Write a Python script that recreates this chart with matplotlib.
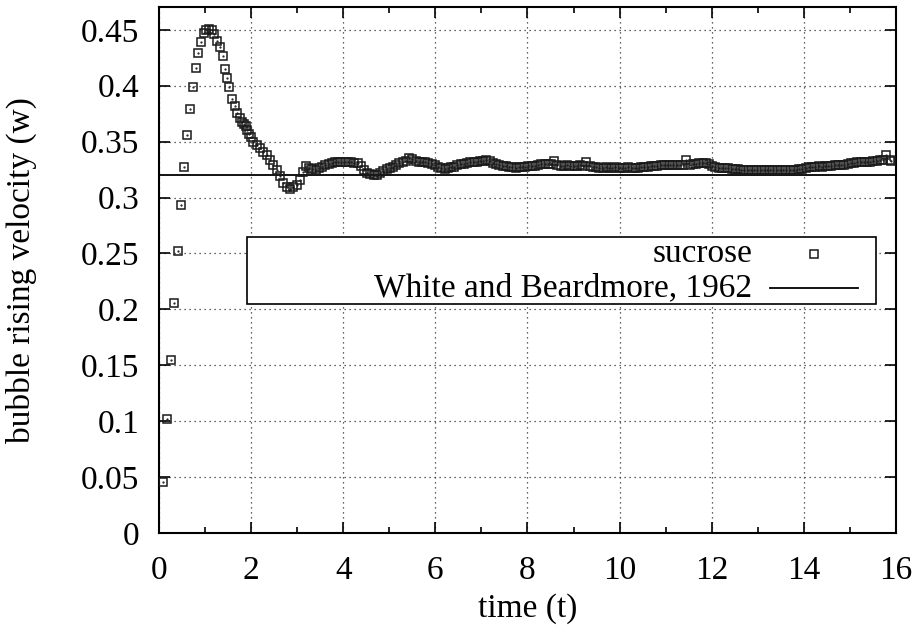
import matplotlib.pyplot as plt
from matplotlib.patches import Rectangle
from matplotlib.lines import Line2D

plt.rcParams['font.family'] = ['Liberation Serif', 'DejaVu Serif']

# rising velocity of the sucrose bubble against time
time = [
    0.08, 0.17, 0.25, 0.33, 0.41, 0.47, 0.54, 0.61, 0.67, 0.73,
    0.80, 0.85, 0.92, 0.98, 1.03, 1.09, 1.15, 1.20, 1.27, 1.32,
    1.38, 1.43, 1.48, 1.53, 1.59, 1.65, 1.70, 1.75, 1.80, 1.85,
    1.88, 1.92, 1.96, 2.00, 2.05, 2.12, 2.19, 2.26, 2.34, 2.41,
    2.48, 2.56, 2.63, 2.70, 2.77, 2.84, 2.92, 2.99, 3.06, 3.13,
    3.19, 3.26, 3.33, 3.40, 3.47, 3.54, 3.61, 3.68, 3.75, 3.82,
    3.89, 3.96, 4.03, 4.10, 4.17, 4.24, 4.31, 4.38, 4.45, 4.52,
    4.59, 4.66, 4.73, 4.80, 4.87, 4.94, 5.01, 5.08, 5.15, 5.22,
    5.29, 5.36, 5.43, 5.50, 5.57, 5.64, 5.71, 5.78, 5.85, 5.92,
    5.99, 6.06, 6.13, 6.20, 6.27, 6.34, 6.41, 6.48, 6.55, 6.62,
    6.69, 6.76, 6.83, 6.90, 6.97, 7.04, 7.11, 7.18, 7.25, 7.32,
    7.39, 7.46, 7.53, 7.60, 7.67, 7.74, 7.81, 7.88, 7.95, 8.02,
    8.09, 8.16, 8.23, 8.30, 8.37, 8.44, 8.51, 8.58, 8.65, 8.72,
    8.79, 8.86, 8.93, 9.00, 9.07, 9.14, 9.21, 9.28, 9.35, 9.42,
    9.49, 9.56, 9.63, 9.70, 9.77, 9.84, 9.91, 9.98, 10.05, 10.12,
    10.19, 10.26, 10.33, 10.40, 10.47, 10.54, 10.61, 10.68, 10.75, 10.82,
    10.89, 10.96, 11.03, 11.10, 11.17, 11.24, 11.31, 11.38, 11.45, 11.52,
    11.59, 11.66, 11.73, 11.80, 11.87, 11.94, 12.01, 12.08, 12.15, 12.22,
    12.29, 12.36, 12.43, 12.50, 12.57, 12.64, 12.71, 12.78, 12.85, 12.92,
    12.99, 13.06, 13.13, 13.20, 13.27, 13.34, 13.41, 13.48, 13.55, 13.62,
    13.69, 13.76, 13.83, 13.90, 13.97, 14.04, 14.11, 14.18, 14.25, 14.32,
    14.39, 14.46, 14.53, 14.60, 14.67, 14.74, 14.81, 14.88, 14.95, 15.02,
    15.09, 15.16, 15.23, 15.30, 15.37, 15.44, 15.51, 15.58, 15.65, 15.72,
    15.79, 15.86, 15.90,
]
velocity = [
    0.046, 0.102, 0.155, 0.206, 0.252, 0.293, 0.327, 0.356, 0.379, 0.399,
    0.416, 0.429, 0.439, 0.447, 0.450, 0.451, 0.450, 0.446, 0.440, 0.435,
    0.427, 0.415, 0.407, 0.399, 0.388, 0.382, 0.376, 0.371, 0.368, 0.366,
    0.364, 0.360, 0.357, 0.354, 0.350, 0.347, 0.344, 0.341, 0.338, 0.334,
    0.329, 0.325, 0.319, 0.313, 0.309, 0.308, 0.309, 0.311, 0.316, 0.323,
    0.328, 0.326, 0.3255, 0.325, 0.326, 0.3275, 0.329, 0.330, 0.331, 0.332,
    0.332, 0.332, 0.332, 0.332, 0.332, 0.331, 0.3305, 0.328, 0.325, 0.322,
    0.321, 0.3205, 0.320, 0.322, 0.324, 0.3255, 0.326, 0.3275, 0.329, 0.3305,
    0.3315, 0.333, 0.335, 0.3345, 0.333, 0.332, 0.332, 0.3315, 0.331, 0.330,
    0.329, 0.3277, 0.3268, 0.3256, 0.326, 0.327, 0.3277, 0.329, 0.3298, 0.330,
    0.3307, 0.3316, 0.332, 0.332, 0.3328, 0.333, 0.3337, 0.333, 0.331, 0.330,
    0.3292, 0.3285, 0.328, 0.3272, 0.327, 0.3268, 0.327, 0.327, 0.3272, 0.328,
    0.3283, 0.3285, 0.329, 0.3298, 0.330, 0.3298, 0.330, 0.333, 0.329, 0.3286,
    0.3286, 0.3288, 0.3286, 0.3285, 0.3286, 0.3288, 0.3286, 0.332, 0.328, 0.3275,
    0.327, 0.3268, 0.3268, 0.327, 0.3268, 0.3268, 0.327, 0.3268, 0.3266, 0.3268,
    0.327, 0.3268, 0.3266, 0.3268, 0.327, 0.3272, 0.3275, 0.3278, 0.328, 0.3285,
    0.329, 0.3292, 0.3292, 0.329, 0.3292, 0.3294, 0.329, 0.3292, 0.3337, 0.3295,
    0.3298, 0.330, 0.3305, 0.3307, 0.3307, 0.330, 0.3285, 0.3272, 0.3268, 0.3265,
    0.3262, 0.326, 0.3258, 0.3255, 0.3252, 0.325, 0.3248, 0.3247, 0.3247, 0.3245,
    0.3247, 0.3248, 0.3247, 0.3245, 0.3247, 0.3248, 0.3247, 0.3247, 0.3245, 0.3245,
    0.3247, 0.3248, 0.325, 0.3252, 0.3258, 0.3265, 0.327, 0.3272, 0.3277, 0.328,
    0.3275, 0.3278, 0.328, 0.3285, 0.329, 0.329, 0.3292, 0.3295, 0.330, 0.3305,
    0.331, 0.3315, 0.3318, 0.332, 0.332, 0.3322, 0.3325, 0.333, 0.3335, 0.3337,
    0.338, 0.3335, 0.333,
]

# terminal velocity from the empirical correlation
reference_velocity = 0.32

legend_labels = ['sucrose', 'White and Beardmore, 1962']
xticks = [0, 2, 4, 6, 8, 10, 12, 14, 16]
yticks = [0, 0.05, 0.1, 0.15, 0.2, 0.25, 0.3, 0.35, 0.4, 0.45]
ytick_labels = ['0', '0.05', '0.1', '0.15', '0.2', '0.25', '0.3', '0.35', '0.4', '0.45']

fs = 24
marker_style = dict(marker='s', markersize=5.5, markerfacecolor='none',
                    markeredgecolor='#1a1a1a', markeredgewidth=1.1)

fig = plt.figure(figsize=(9.18, 6.37), dpi=100)
ax = fig.add_axes([0.1732, 0.1633, 0.8028, 0.825])

ax.axhline(reference_velocity, color='black', linewidth=1.3, zorder=2)
ax.plot(time, velocity, linestyle='none', zorder=3, **marker_style)
ax.plot(time, velocity, linestyle='none', marker='.', markersize=1.2,
        color='#1a1a1a', zorder=3)

ax.set_xlim(0, 16)
ax.set_ylim(0, 0.47)
ax.set_xticks(xticks)
ax.set_xticks([1, 3, 5, 7, 9, 11, 13, 15], minor=True)
ax.set_yticks(yticks)
ax.set_yticklabels(ytick_labels)

ax.grid(True, which='major', color='#333333', linestyle=(0, (1, 3)), linewidth=0.9)
ax.tick_params(which='both', direction='in', top=True, right=True, labelsize=fs, width=1.2)
ax.tick_params(which='major', length=8)
ax.tick_params(which='minor', length=4.5)
ax.tick_params(axis='x', pad=16)
ax.tick_params(axis='y', pad=14)
for spine in ax.spines.values():
    spine.set_linewidth(1.5)

ax.set_xlabel('time (t)', fontsize=fs)
ax.set_ylabel('bubble rising velocity (w)', fontsize=fs)
ax.xaxis.set_label_coords(0.5, -0.115)
ax.yaxis.set_label_coords(-0.166, 0.5)

# key box with labels on the left and samples on the right
box = Rectangle((0.119, 0.436), 0.854, 0.127, transform=ax.transAxes,
                facecolor='white', edgecolor='black', linewidth=1.2, zorder=4)
ax.add_patch(box)
ax.text(0.805, 0.531, legend_labels[0], transform=ax.transAxes, ha='right', va='center',
        fontsize=fs, zorder=5)
ax.text(0.805, 0.467, legend_labels[1], transform=ax.transAxes, ha='right', va='center',
        fontsize=fs, zorder=5)
ax.add_line(Line2D([0.889], [0.531], transform=ax.transAxes, linestyle='none',
                   zorder=5, **marker_style))
ax.add_line(Line2D([0.829, 0.949], [0.467, 0.467], transform=ax.transAxes,
                   color='black', linewidth=1.3, zorder=5))

fig.savefig('out.png', dpi=100)
